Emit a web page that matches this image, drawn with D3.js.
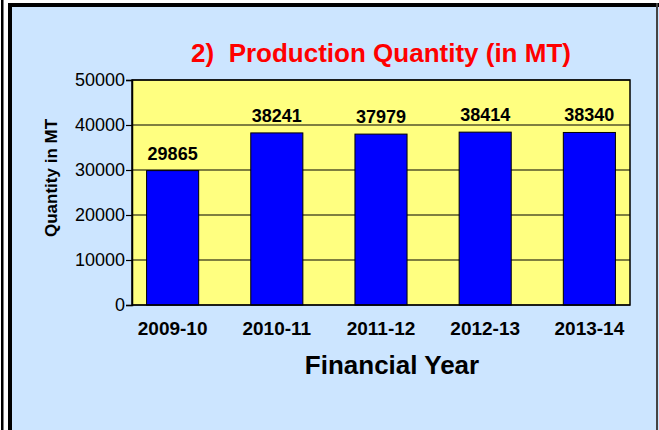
<!DOCTYPE html>
<html>
<head>
<meta charset="utf-8">
<script src="https://cdn.jsdelivr.net/npm/d3@7"></script>
<style>
  body { margin: 0; background: #ffffff; }
  svg { display: block; font-family: Arial, "Liberation Sans", sans-serif; }
</style>
</head>
<body>
<svg width="659" height="430"></svg>
<script>
// данные графика
const years = ["2009-10", "2010-11", "2011-12", "2012-13", "2013-14"];
const quantity = [29865, 38241, 37979, 38414, 38340];
const yTicks = [0, 10000, 20000, 30000, 40000, 50000];

const svg = d3.select("svg");

// рамка и фон панели
svg.append("rect").attr("x", 1).attr("y", 0).attr("width", 2.5).attr("height", 430).attr("fill", "#000");
svg.append("rect").attr("x", 8).attr("y", 3).attr("width", 651).attr("height", 427).attr("fill", "#cce5ff");
svg.append("rect").attr("x", 8).attr("y", 3).attr("width", 4).attr("height", 427).attr("fill", "#000");
svg.append("rect").attr("x", 8).attr("y", 3).attr("width", 651).attr("height", 4).attr("fill", "#000");
svg.append("rect").attr("x", 656).attr("y", 3).attr("width", 2).attr("height", 427).attr("fill", "#444");

const area = { left: 132, right: 630, top: 80, bottom: 305 };

const scX = d3.scaleBand()
    .domain(years)
    .range([area.left, area.right])
    .paddingInner(0.5)
    .paddingOuter(0.14);

const scY = d3.scaleLinear()
    .domain([0, 50000])
    .range([area.bottom, area.top]);

// область построения
svg.append("rect")
    .attr("x", area.left).attr("y", area.top)
    .attr("width", area.right - area.left).attr("height", area.bottom - area.top)
    .attr("fill", "#ffff80");

// линии сетки
svg.append("g").selectAll("line")
    .data(yTicks)
    .enter()
    .append("line")
    .attr("x1", area.left).attr("x2", area.right)
    .attr("y1", d => scY(d)).attr("y2", d => scY(d))
    .attr("stroke", "#000").attr("stroke-width", 1.2);

// столбцы
svg.append("g").selectAll("rect")
    .data(years)
    .enter()
    .append("rect")
    .attr("x", d => scX(d))
    .attr("y", (d, i) => scY(quantity[i]))
    .attr("width", scX.bandwidth())
    .attr("height", (d, i) => scY(0) - scY(quantity[i]))
    .attr("fill", "#0000ff")
    .attr("stroke", "#000").attr("stroke-width", 1);

// рамка области
svg.append("rect")
    .attr("x", area.left).attr("y", area.top)
    .attr("width", area.right - area.left).attr("height", area.bottom - area.top)
    .attr("fill", "none").attr("stroke", "#000").attr("stroke-width", 1.5);

// ось Y
const axisY = d3.axisLeft(scY).tickValues(yTicks).tickSize(6).tickPadding(1).tickFormat(d3.format("d"));
const gY = svg.append("g")
    .attr("transform", `translate(${area.left}, 0)`)
    .call(axisY);
gY.select(".domain").attr("stroke", "#000").attr("stroke-width", 1.5);
gY.selectAll(".tick line").attr("stroke-width", 1.2);
gY.selectAll("text").style("font-size", "18px").attr("fill", "#000").attr("font-family", "Arial, 'Liberation Sans', sans-serif");

// подписи по оси X
svg.append("g").selectAll("text")
    .data(years)
    .enter()
    .append("text")
    .attr("x", d => scX(d) + scX.bandwidth() / 2)
    .attr("y", 335)
    .attr("text-anchor", "middle")
    .style("font-size", "19px").style("font-weight", "bold")
    .text(d => d);

// значения над столбцами
svg.append("g").selectAll("text")
    .data(years)
    .enter()
    .append("text")
    .attr("x", d => scX(d) + scX.bandwidth() / 2)
    .attr("y", (d, i) => scY(quantity[i]) - 11)
    .attr("text-anchor", "middle")
    .style("font-size", "18px").style("font-weight", "bold")
    .text((d, i) => quantity[i]);

// заголовок
svg.append("text")
    .attr("x", 381).attr("y", 62)
    .attr("text-anchor", "middle")
    .attr("fill", "#ff0000")
    .style("font-size", "26px").style("font-weight", "bold")
    .attr("xml:space", "preserve")
    .text("2)  Production Quantity (in MT)");

// названия осей
svg.append("text")
    .attr("x", 392).attr("y", 374)
    .attr("text-anchor", "middle")
    .style("font-size", "26px").style("font-weight", "bold")
    .text("Financial Year");

svg.append("text")
    .attr("transform", "translate(57, 178) rotate(-90)")
    .attr("text-anchor", "middle")
    .style("font-size", "17px").style("font-weight", "bold")
    .text("Quantity in MT");
</script>
</body>
</html>
